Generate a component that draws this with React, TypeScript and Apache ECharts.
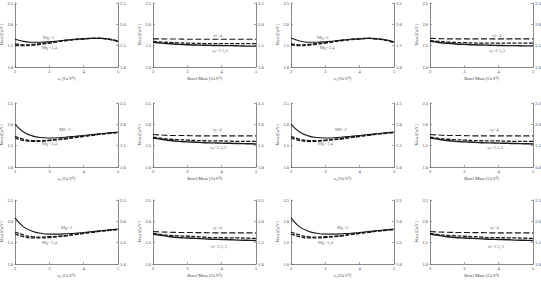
import React, { useEffect, useRef } from "react";
import * as echarts from "echarts";

// sample abscissae (s0 or Borel mass, GeV^2)
const xs = [2.0, 2.25, 2.5, 2.75, 3.0, 3.25, 3.5, 3.75, 4.0, 4.25, 4.5, 4.75, 5.0];

// Row 1 (s0 panels): M_B = 2, 3, 4
const r1c1_mb2 = [1.65, 1.6, 1.58, 1.58, 1.59, 1.61, 1.63, 1.65, 1.66, 1.67, 1.67, 1.65, 1.6];
const r1c1_mb3 = [1.54, 1.52, 1.53, 1.55, 1.57, 1.6, 1.63, 1.65, 1.66, 1.67, 1.67, 1.65, 1.61];
const r1c1_mb4 = [1.51, 1.5, 1.51, 1.53, 1.56, 1.59, 1.62, 1.64, 1.66, 1.67, 1.67, 1.65, 1.6];
const r1c3_mb2 = [1.68, 1.61, 1.58, 1.58, 1.59, 1.61, 1.63, 1.65, 1.66, 1.67, 1.66, 1.64, 1.59];
const r1c3_mb3 = [1.55, 1.52, 1.53, 1.55, 1.57, 1.6, 1.63, 1.65, 1.66, 1.67, 1.66, 1.63, 1.57];
const r1c3_mb4 = [1.52, 1.5, 1.51, 1.53, 1.56, 1.59, 1.62, 1.64, 1.66, 1.67, 1.66, 1.63, 1.57];
// Row 1 (Borel panels): s0 = 2.5, 3, 4
const r1c2_s4 = [1.66, 1.66, 1.655, 1.655, 1.65, 1.65, 1.65, 1.65, 1.65, 1.65, 1.65, 1.65, 1.65];
const r1c2_s3 = [1.6, 1.585, 1.575, 1.565, 1.56, 1.555, 1.55, 1.55, 1.55, 1.55, 1.55, 1.55, 1.55];
const r1c2_s25 = [1.58, 1.56, 1.545, 1.53, 1.52, 1.515, 1.51, 1.505, 1.5, 1.5, 1.495, 1.49, 1.49];
const r1c4_s4 = [1.67, 1.665, 1.66, 1.66, 1.66, 1.66, 1.66, 1.66, 1.66, 1.66, 1.66, 1.66, 1.66];
const r1c4_s3 = [1.62, 1.6, 1.585, 1.575, 1.57, 1.565, 1.56, 1.56, 1.56, 1.56, 1.56, 1.56, 1.56];
const r1c4_s25 = [1.6, 1.575, 1.555, 1.54, 1.53, 1.52, 1.515, 1.51, 1.505, 1.5, 1.5, 1.495, 1.495];

// Row 2
const r2c1_mb2 = [2.0, 1.82, 1.73, 1.69, 1.68, 1.685, 1.7, 1.72, 1.74, 1.76, 1.78, 1.8, 1.82];
const r2c1_mb3 = [1.72, 1.65, 1.62, 1.62, 1.63, 1.65, 1.67, 1.7, 1.72, 1.75, 1.77, 1.79, 1.81];
const r2c1_mb4 = [1.68, 1.62, 1.6, 1.6, 1.62, 1.64, 1.66, 1.69, 1.72, 1.74, 1.77, 1.79, 1.81];
const r2c2_s4 = [1.76, 1.75, 1.74, 1.74, 1.735, 1.73, 1.73, 1.73, 1.73, 1.73, 1.73, 1.73, 1.73];
const r2c2_s3 = [1.7, 1.67, 1.65, 1.64, 1.63, 1.62, 1.615, 1.61, 1.61, 1.605, 1.6, 1.6, 1.6];
const r2c2_s25 = [1.68, 1.65, 1.62, 1.6, 1.59, 1.58, 1.57, 1.565, 1.56, 1.555, 1.55, 1.545, 1.54];

// Row 3
const r3c1_mb2 = [2.08, 1.87, 1.77, 1.72, 1.7, 1.7, 1.71, 1.72, 1.74, 1.76, 1.78, 1.8, 1.82];
const r3c1_mb3 = [1.75, 1.68, 1.64, 1.63, 1.64, 1.65, 1.67, 1.7, 1.72, 1.75, 1.77, 1.79, 1.81];
const r3c1_mb4 = [1.7, 1.64, 1.61, 1.61, 1.62, 1.64, 1.66, 1.69, 1.72, 1.74, 1.77, 1.79, 1.81];
const r3c2_s4 = [1.76, 1.75, 1.745, 1.74, 1.74, 1.735, 1.735, 1.73, 1.73, 1.73, 1.73, 1.73, 1.73];
const r3c2_s3 = [1.72, 1.69, 1.67, 1.66, 1.65, 1.64, 1.63, 1.62, 1.62, 1.61, 1.61, 1.605, 1.6];
const r3c2_s25 = [1.7, 1.67, 1.64, 1.62, 1.61, 1.6, 1.59, 1.58, 1.575, 1.57, 1.56, 1.555, 1.55];

const FONT = '"Liberation Serif", "DejaVu Serif", serif';
const TXT = "#3a3a3a";
const lefts = [15, 153, 291, 430];
const tops = [3, 103, 200];
const W = 103;
const H = 64;

type Panel = {
  kind: "s0" | "borel";
  lines: number[][];
  labels: { text: string; x: number; y: number }[];
};

const MB2 = "{n|M}{s|B}{n|=2}";
const MB34 = "{n|M}{s|B}{n|=3,4}";
const S4 = "{n|s}{s|0}{n|=4}";
const S253 = "{n|s}{s|0}{n|=2.5,3}";

const panels: Panel[][] = [
  [
    { kind: "s0", lines: [r1c1_mb2, r1c1_mb3, r1c1_mb4], labels: [{ text: MB2, x: 2.98, y: 1.69 }, { text: MB34, x: 3.0, y: 1.45 }] },
    { kind: "borel", lines: [r1c2_s25, r1c2_s3, r1c2_s4], labels: [{ text: S4, x: 3.88, y: 1.75 }, { text: S253, x: 3.95, y: 1.39 }] },
    { kind: "s0", lines: [r1c3_mb2, r1c3_mb3, r1c3_mb4], labels: [{ text: MB2, x: 2.93, y: 1.69 }, { text: MB34, x: 3.05, y: 1.45 }] },
    { kind: "borel", lines: [r1c4_s25, r1c4_s3, r1c4_s4], labels: [{ text: S4, x: 3.95, y: 1.75 }, { text: S253, x: 3.95, y: 1.38 }] },
  ],
  [
    { kind: "s0", lines: [r2c1_mb2, r2c1_mb3, r2c1_mb4], labels: [{ text: MB2, x: 3.45, y: 1.89 }, { text: MB34, x: 3.0, y: 1.55 }] },
    { kind: "borel", lines: [r2c2_s25, r2c2_s3, r2c2_s4], labels: [{ text: S4, x: 3.87, y: 1.88 }, { text: S253, x: 3.9, y: 1.46 }] },
    { kind: "s0", lines: [r2c1_mb2, r2c1_mb3, r2c1_mb4], labels: [{ text: MB2, x: 3.45, y: 1.89 }, { text: MB34, x: 3.0, y: 1.55 }] },
    { kind: "borel", lines: [r2c2_s25, r2c2_s3, r2c2_s4], labels: [{ text: S4, x: 3.87, y: 1.88 }, { text: S253, x: 3.9, y: 1.46 }] },
  ],
  [
    { kind: "s0", lines: [r3c1_mb2, r3c1_mb3, r3c1_mb4], labels: [{ text: MB2, x: 3.5, y: 1.85 }, { text: MB34, x: 3.0, y: 1.5 }] },
    { kind: "borel", lines: [r3c2_s25, r3c2_s3, r3c2_s4], labels: [{ text: S4, x: 3.87, y: 1.85 }, { text: S253, x: 3.92, y: 1.42 }] },
    { kind: "s0", lines: [r3c1_mb2, r3c1_mb3, r3c1_mb4], labels: [{ text: MB2, x: 3.5, y: 1.85 }, { text: MB34, x: 3.0, y: 1.5 }] },
    { kind: "borel", lines: [r3c2_s25, r3c2_s3, r3c2_s4], labels: [{ text: S4, x: 3.87, y: 1.85 }, { text: S253, x: 3.92, y: 1.42 }] },
  ],
];

const AX = "#6a6a6a";

function buildOption() {
  const grid: any[] = [];
  const xAxis: any[] = [];
  const yAxis: any[] = [];
  const series: any[] = [];
  let gi = 0;
  panels.forEach((row, r) => {
    row.forEach((p, c) => {
      grid.push({ left: lefts[c], top: tops[r], width: W, height: H, outerBoundsMode: "none" });
      xAxis.push({
        type: "value",
        gridIndex: gi,
        min: 2,
        max: 5,
        interval: 1,
        name: p.kind === "s0" ? "s\u2080 [GeV\u00b2]" : "Borel Mass [GeV\u00b2]",
        nameLocation: "middle",
        nameGap: 9,
        nameTextStyle: { fontFamily: FONT, fontSize: 4.5, color: TXT },
        axisLine: { lineStyle: { color: AX, width: 0.8 } },
        axisTick: { inside: true, length: 2, lineStyle: { color: AX, width: 0.6 } },
        axisLabel: { fontFamily: FONT, fontSize: 4.5, color: TXT, margin: 2 },
        splitLine: { show: false },
      });
      const yBase = {
        type: "value",
        gridIndex: gi,
        min: 1.0,
        max: 2.5,
        interval: 0.5,
        axisLine: { show: true, lineStyle: { color: AX, width: 0.8 } },
        axisTick: { inside: true, length: 2, lineStyle: { color: AX, width: 0.6 } },
        axisLabel: { fontFamily: FONT, fontSize: 4.5, color: TXT, margin: 2, formatter: (v: number) => v.toFixed(1) },
        splitLine: { show: false },
      };
      yAxis.push({
        ...yBase,
        position: "left",
        name: "Mass [GeV]",
        nameLocation: "middle",
        nameGap: 7,
        nameTextStyle: { fontFamily: FONT, fontSize: 4.3, color: TXT },
      });
      yAxis.push({ ...yBase, position: "right" });
      const dashes =
        p.kind === "s0"
          ? ["solid", [4, 1.5], [4, 1.5]]
          : ["solid", [4, 1.5], [6, 2.5]];
      const widths = p.kind === "s0" ? [1.1, 1.3, 1.3] : [1.4, 1.3, 1.1];
      p.lines.forEach((ys, k) => {
        series.push({
          type: "line",
          xAxisIndex: gi,
          yAxisIndex: gi * 2,
          data: xs.map((x, i) => [x, ys[i]]),
          smooth: 0.4,
          showSymbol: false,
          symbol: "none",
          color: "#1a1a1a",
          lineStyle: { color: "#1a1a1a", width: widths[k], type: dashes[k] },
          silent: true,
        });
      });
      series.push({
        type: "scatter",
        xAxisIndex: gi,
        yAxisIndex: gi * 2,
        symbolSize: 0,
        silent: true,
        color: TXT,
        itemStyle: { color: TXT },
        data: p.labels.map((l) => ({ value: [l.x, l.y], text: l.text })),
        label: {
          show: true,
          position: "inside",
          color: TXT,
          fontFamily: FONT,
          fontSize: 4.8,
          formatter: (prm: any) => prm.data.text,
          rich: {
            n: { fontFamily: FONT, fontSize: 4.8, color: TXT },
            s: { fontFamily: FONT, fontSize: 3.4, color: TXT, padding: [2.5, 0, 0, 0] },
          },
        },
      });
      gi++;
    });
  });
  return { animation: false, backgroundColor: "#fff", color: ["#1a1a1a"], grid, xAxis, yAxis, series };
}

export default function App() {
  const ref = useRef<HTMLDivElement>(null);
  useEffect(() => {
    if (!ref.current) return;
    const chart = echarts.init(ref.current, undefined, { renderer: "svg" });
    chart.setOption(buildOption() as any);
    return () => chart.dispose();
  }, []);
  return (
    <div
      ref={ref}
      style={{ position: "fixed", left: 0, top: 0, width: 541, height: 281, background: "#fff" }}
    />
  );
}
